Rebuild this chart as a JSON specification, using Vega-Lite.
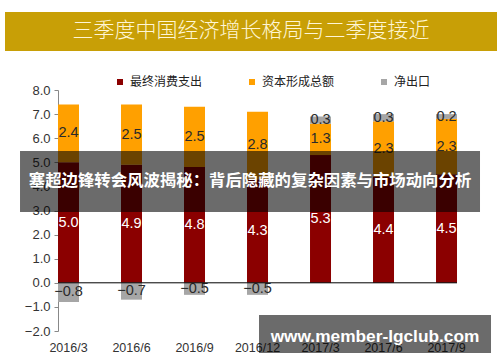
{
  "$schema": "https://vega.github.io/schema/vega-lite/v6.json",
  "autosize": {"type": "none"},
  "width": 492,
  "height": 241,
  "padding": {"left": 5, "top": 90, "right": 3, "bottom": 31},
  "background": "#ffffff",
  "config": {
    "view": {"stroke": null},
    "axisY": {
      "offset": -53, "grid": false, "format": ".1f", "domainColor": "#888888", "tickColor": "#888888", "tickSize": 4,
      "tickCount": 10, "labelPadding": 4, "labelFont": "Liberation Sans", "labelFontSize": 13, "labelColor": "#333333", "labelOverlap": false
    },
    "axisX": {
      "domain": false, "ticks": false, "labelPadding": 10, "labelAngle": 0,
      "labelFont": "Liberation Sans", "labelFontSize": 12.5, "labelColor": "#333333"
    }
  },
  "data": {
    "values": [
      {"quarter": "2016/3", "type": "最终消费支出", "value": 5.0},
      {"quarter": "2016/3", "type": "资本形成总额", "value": 2.4},
      {"quarter": "2016/3", "type": "净出口", "value": -0.8},
      {"quarter": "2016/6", "type": "最终消费支出", "value": 4.9},
      {"quarter": "2016/6", "type": "资本形成总额", "value": 2.5},
      {"quarter": "2016/6", "type": "净出口", "value": -0.7},
      {"quarter": "2016/9", "type": "最终消费支出", "value": 4.8},
      {"quarter": "2016/9", "type": "资本形成总额", "value": 2.5},
      {"quarter": "2016/9", "type": "净出口", "value": -0.5},
      {"quarter": "2016/12", "type": "最终消费支出", "value": 4.3},
      {"quarter": "2016/12", "type": "资本形成总额", "value": 2.8},
      {"quarter": "2016/12", "type": "净出口", "value": -0.5},
      {"quarter": "2017/3", "type": "最终消费支出", "value": 5.3},
      {"quarter": "2017/3", "type": "资本形成总额", "value": 1.3},
      {"quarter": "2017/3", "type": "净出口", "value": 0.3},
      {"quarter": "2017/6", "type": "最终消费支出", "value": 4.4},
      {"quarter": "2017/6", "type": "资本形成总额", "value": 2.3},
      {"quarter": "2017/6", "type": "净出口", "value": 0.3},
      {"quarter": "2017/9", "type": "最终消费支出", "value": 4.5},
      {"quarter": "2017/9", "type": "资本形成总额", "value": 2.3},
      {"quarter": "2017/9", "type": "净出口", "value": 0.2}
    ]
  },
  "resolve": {"scale": {"color": "independent"}, "legend": {"color": "independent"}},
  "layer": [
    {
      "mark": {"type": "bar"},
      "encoding": {
        "x": {
          "field": "quarter", "type": "nominal", "sort": null, "title": null,
          "scale": {
            "domain": ["2016/3", "2016/6", "2016/9", "2016/12", "2017/3", "2017/6", "2017/9"],
            "paddingInner": 0.6667, "paddingOuter": 0.738, "align": 0.57
          }
        },
        "y": {
          "field": "value", "type": "quantitative", "stack": "zero", "title": null,
          "scale": {"domain": [-2, 8], "nice": false, "zero": false}
        },
        "order": {"field": "value", "type": "quantitative", "sort": "descending"},
        "color": {
          "field": "type", "type": "nominal",
          "scale": {"domain": ["最终消费支出", "资本形成总额", "净出口"], "range": ["#8B0000", "#FFA000", "#A6A6A6"]},
          "legend": {
            "orient": "none", "legendX": 109, "legendY": -14, "direction": "horizontal", "columns": 3,
            "gridAlign": "all", "columnPadding": 43, "title": null, "symbolType": "square", "symbolSize": 36,
            "symbolStrokeWidth": 0, "labelFont": "Noto Sans CJK SC", "labelFontSize": 12, "labelColor": "#222222",
            "labelOffset": 4, "padding": 0
          }
        }
      }
    },
    {
      "mark": {"type": "text", "font": "Liberation Sans", "fontSize": 14.5, "baseline": "middle", "align": "center"},
      "encoding": {
        "x": {"field": "quarter", "type": "nominal", "sort": null, "title": null},
        "y": {"field": "value", "type": "quantitative", "stack": "zero", "bandPosition": 0.5, "title": null},
        "order": {"field": "value", "type": "quantitative", "sort": "descending"},
        "color": {
          "field": "type", "type": "nominal",
          "scale": {"domain": ["最终消费支出", "资本形成总额", "净出口"], "range": ["#ffffff", "#2a2a2a", "#2a2a2a"]},
          "legend": null
        },
        "text": {"field": "value", "type": "quantitative", "format": ".1f"}
      }
    },
    {
      "data": {"values": [{}]},
      "mark": {"type": "rule", "color": "#000000", "strokeWidth": 1},
      "encoding": {
        "y": {"datum": 0, "type": "quantitative", "title": null},
        "x": {"datum": "2016/3", "type": "nominal", "bandPosition": 0, "title": null},
        "x2": {"datum": "2017/9", "bandPosition": 1}
      }
    },
    {
      "data": {"values": [{}]},
      "mark": {"type": "rect", "color": "#C89F06"},
      "encoding": {
        "y": {"datum": 11.236, "type": "quantitative", "title": null},
        "y2": {"datum": 9.618}
      }
    },
    {
      "data": {"values": [{}]},
      "mark": {"type": "text", "text": "三季度中国经济增长格局与二季度接近", "font": "Noto Sans CJK SC", "fontWeight": 300, "fontSize": 21, "color": "#FFF6D5", "align": "center", "baseline": "middle"},
      "encoding": {
        "y": {"datum": 10.43, "type": "quantitative", "title": null}
      }
    },
    {
      "data": {"values": [{}]},
      "mark": {"type": "rect", "color": "#000000", "opacity": 0.58},
      "encoding": {
        "x": {"datum": "2016/3", "type": "nominal", "bandPosition": -1.8095, "title": null},
        "x2": {"datum": "2017/9", "bandPosition": 2.0952},
        "y": {"datum": 5.469, "type": "quantitative", "title": null},
        "y2": {"datum": 2.938}
      }
    },
    {
      "data": {"values": [{}]},
      "mark": {"type": "text", "text": "塞超边锋转会风波揭秘：背后隐藏的复杂因素与市场动向分析", "font": "Noto Sans CJK SC", "fontWeight": "bold", "fontSize": 16.4, "color": "#ffffff", "align": "center", "baseline": "middle"},
      "encoding": {
        "x": {"datum": "2016/12", "type": "nominal", "bandPosition": 0.143, "title": null},
        "y": {"datum": 4.22, "type": "quantitative", "title": null}
      }
    },
    {
      "data": {"values": [{}]},
      "mark": {"type": "rect", "color": "#000000", "opacity": 0.58},
      "encoding": {
        "x": {"datum": "2016/12", "type": "nominal", "bandPosition": 0.5714, "title": null},
        "x2": {"datum": "2017/9", "bandPosition": 2.619},
        "y": {"datum": -1.336, "type": "quantitative", "title": null},
        "y2": {"datum": -2.913}
      }
    },
    {
      "data": {"values": [{}]},
      "mark": {"type": "text", "text": "www.member-lgclub.com", "font": "Liberation Sans", "fontWeight": "bold", "fontSize": 17.3, "color": "#ffffff", "align": "center", "baseline": "middle"},
      "encoding": {
        "x": {"datum": "2017/6", "type": "nominal", "bandPosition": 0.095, "title": null},
        "y": {"datum": -2.237, "type": "quantitative", "title": null}
      }
    }
  ]
}
